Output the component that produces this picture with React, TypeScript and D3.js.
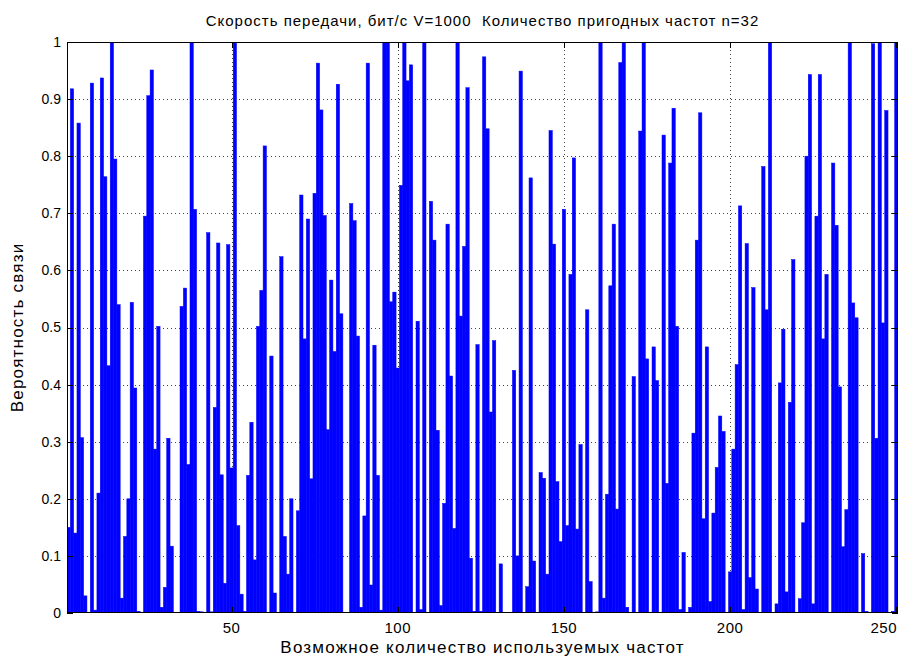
import { useRef, useEffect } from 'react';
import * as d3 from 'd3';

// вероятность связи для каждого возможного количества частот (1..250)
const PROB_1_50 = [
  0.15, 0.918, 0.14, 0.858, 0.307, 0.03, 0.0, 0.928, 0.005, 0.21,
  0.937, 0.764, 0.433, 1.0, 0.795, 0.54, 0.026, 0.134, 0.2, 0.544,
  0.394, 0.003, 0.0, 0.695, 0.906, 0.951, 0.287, 0.502, 0.01, 0.045,
  0.306, 0.117, 0.0, 0.0, 0.537, 0.569, 0.26, 1.0, 0.707, 0.003,
  0.002, 0.0, 0.666, 0.002, 0.36, 0.648, 0.242, 0.052, 0.645, 0.254,
];
const PROB_51_100 = [
  1.0, 0.153, 0.033, 0.003, 0.241, 0.334, 0.093, 0.502, 0.565, 0.818,
  0.0, 0.45, 0.035, 0.0, 0.624, 0.134, 0.068, 0.2, 0.0, 0.179,
  0.732, 0.48, 0.69, 0.235, 0.735, 0.963, 0.881, 0.696, 0.321, 0.583,
  0.458, 0.926, 0.524, 0.0, 0.0, 0.717, 0.687, 0.485, 0.01, 0.17,
  0.963, 0.049, 0.469, 0.241, 0.005, 1.0, 1.0, 0.545, 0.562, 0.429,
];
const PROB_101_150 = [
  0.749, 1.0, 0.932, 0.96, 0.0, 0.511, 0.006, 1.0, 0.0, 0.721,
  0.653, 0.32, 0.013, 0.192, 0.681, 0.415, 0.148, 1.0, 0.52, 0.642,
  0.92, 0.096, 0.003, 0.47, 0.003, 0.974, 0.848, 0.352, 0.477, 0.0,
  0.086, 0.0, 0.0, 0.0, 0.425, 0.1, 0.949, 0.0, 0.046, 0.762,
  0.091, 0.0, 0.246, 0.236, 0.068, 0.845, 0.646, 0.23, 0.125, 0.707,
];
const PROB_151_200 = [
  0.153, 0.593, 0.797, 0.147, 0.295, 0.0, 0.531, 0.055, 0.0, 0.002,
  1.0, 0.026, 0.208, 0.573, 0.681, 0.182, 0.964, 1.0, 0.01, 0.0,
  0.414, 0.0, 0.844, 1.0, 0.445, 0.0, 0.466, 0.407, 0.0, 0.837,
  0.227, 0.788, 0.884, 0.502, 0.006, 0.106, 0.0, 0.01, 0.315, 0.653,
  0.876, 0.165, 0.466, 0.02, 0.175, 0.255, 0.345, 0.318, 0.0, 0.072,
];
const PROB_201_250 = [
  0.287, 0.435, 0.713, 0.006, 0.647, 0.062, 0.57, 0.042, 0.0, 0.782,
  0.531, 1.0, 0.0, 0.016, 0.403, 0.497, 0.037, 0.369, 0.619, 0.0,
  0.025, 0.158, 0.8, 0.943, 0.016, 0.695, 0.943, 0.48, 0.593, 0.0,
  0.788, 0.679, 0.396, 0.116, 0.181, 1.0, 0.543, 0.517, 0.0, 0.104,
  0.003, 0.0, 0.997, 0.306, 1.0, 0.508, 0.88, 0.0, 0.003, 1.0,
];

const X_TICKS = [50, 100, 150, 200, 250];
const Y_TICKS = [0, 0.1, 0.2, 0.3, 0.4, 0.5, 0.6, 0.7, 0.8, 0.9, 1];

const TITLE = 'Скорость передачи, бит/с V=1000  Количество пригодных частот n=32';
const X_LABEL = 'Возможное количество используемых частот';
const Y_LABEL = 'Вероятность связи';

const WIDTH = 914;
const HEIGHT = 657;
const PLOT = { left: 67, right: 898, top: 42, bottom: 613 };
const FONT = '"Liberation Sans", Arial, sans-serif';

export default function App() {
  const svgRef = useRef<SVGSVGElement>(null);

  useEffect(() => {
    if (!svgRef.current) return;
    const svg = d3.select(svgRef.current);
    svg.selectAll('*').remove();

    const values = [...PROB_1_50, ...PROB_51_100, ...PROB_101_150, ...PROB_151_200, ...PROB_201_250];
    const data = values.map((v, i) => ({ n: i + 1, p: v }));

    const x = d3.scaleLinear().domain([0.5, 250.5]).range([PLOT.left, PLOT.right]);
    const y = d3.scaleLinear().domain([0, 1]).range([PLOT.bottom, PLOT.top]);
    const iW = PLOT.right - PLOT.left;
    const iH = PLOT.bottom - PLOT.top;

    svg.append('rect').attr('width', WIDTH).attr('height', HEIGHT).attr('fill', '#fff');

    svg.append('defs').append('clipPath').attr('id', 'plot-clip')
      .append('rect')
      .attr('x', PLOT.left).attr('y', PLOT.top)
      .attr('width', iW).attr('height', iH);

    // dotted grid, behind the bars
    const grid = svg.append('g')
      .attr('stroke', '#444')
      .attr('stroke-width', 1)
      .attr('stroke-dasharray', '1,3');
    grid.selectAll('line.h')
      .data(Y_TICKS.slice(1, -1))
      .join('line')
      .attr('class', 'h')
      .attr('x1', PLOT.left).attr('x2', PLOT.right)
      .attr('y1', (d) => Math.round(y(d)) + 0.5).attr('y2', (d) => Math.round(y(d)) + 0.5);
    grid.selectAll('line.v')
      .data(X_TICKS.slice(0, -1))
      .join('line')
      .attr('class', 'v')
      .attr('x1', (d) => Math.round(x(d)) + 0.5).attr('x2', (d) => Math.round(x(d)) + 0.5)
      .attr('y1', PLOT.top).attr('y2', PLOT.bottom);

    // bars
    svg.append('g')
      .attr('clip-path', 'url(#plot-clip)')
      .selectAll('rect')
      .data(data)
      .join('rect')
      .attr('x', (d) => x(d.n - 0.5))
      .attr('width', x(1.5) - x(0.5))
      .attr('y', (d) => y(d.p))
      .attr('height', (d) => y(0) - y(d.p))
      .attr('fill', '#0000ff')
      .attr('stroke', '#0000ff')
      .attr('stroke-width', 0.5);

    // box with inward ticks on all four sides
    const tickLen = 6;
    const axisG = svg.append('g').attr('stroke', '#000').attr('stroke-width', 1);
    axisG.append('rect')
      .attr('x', PLOT.left + 0.5).attr('y', PLOT.top + 0.5)
      .attr('width', iW - 1).attr('height', iH - 1)
      .attr('fill', 'none');

    Y_TICKS.forEach((t) => {
      const yy = Math.round(y(t)) + 0.5;
      axisG.append('line').attr('x1', PLOT.left).attr('x2', PLOT.left + tickLen).attr('y1', yy).attr('y2', yy);
      axisG.append('line').attr('x1', PLOT.right - tickLen).attr('x2', PLOT.right).attr('y1', yy).attr('y2', yy);
    });
    X_TICKS.forEach((t) => {
      const xx = Math.round(x(t)) + 0.5;
      axisG.append('line').attr('x1', xx).attr('x2', xx).attr('y1', PLOT.bottom).attr('y2', PLOT.bottom - tickLen);
      axisG.append('line').attr('x1', xx).attr('x2', xx).attr('y1', PLOT.top).attr('y2', PLOT.top + tickLen);
    });

    // tick labels
    svg.append('g')
      .selectAll('text')
      .data(Y_TICKS)
      .join('text')
      .attr('x', PLOT.left - 6)
      .attr('y', (d) => y(d))
      .attr('dy', '0.35em')
      .attr('text-anchor', 'end')
      .attr('font-family', FONT)
      .attr('font-size', 14)
      .attr('fill', '#000')
      .text((d) => d3.format('~g')(d));

    const lastTick = X_TICKS[X_TICKS.length - 1];
    svg.append('g')
      .selectAll('text')
      .data(X_TICKS)
      .join('text')
      .attr('x', (d) => (d === lastTick ? PLOT.right - 1 : x(d)))
      .attr('y', PLOT.bottom + 20)
      .attr('text-anchor', (d) => (d === lastTick ? 'end' : 'middle'))
      .attr('font-family', FONT)
      .attr('font-size', 15)
      .attr('letter-spacing', 0.5)
      .attr('fill', '#000')
      .text((d) => String(d));

    // title and axis labels
    svg.append('text')
      .attr('x', (PLOT.left + PLOT.right) / 2)
      .attr('y', 26)
      .attr('text-anchor', 'middle')
      .attr('font-family', FONT)
      .attr('font-size', 15)
      .attr('letter-spacing', 1)
      .attr('fill', '#000')
      .style('white-space', 'pre')
      .text(TITLE);

    svg.append('text')
      .attr('x', (PLOT.left + PLOT.right) / 2)
      .attr('y', 653)
      .attr('text-anchor', 'middle')
      .attr('font-family', FONT)
      .attr('font-size', 17)
      .attr('letter-spacing', 1.2)
      .attr('fill', '#000')
      .text(X_LABEL);

    svg.append('text')
      .attr('transform', `translate(23,${(PLOT.top + PLOT.bottom) / 2}) rotate(-90)`)
      .attr('text-anchor', 'middle')
      .attr('font-family', FONT)
      .attr('font-size', 17)
      .attr('letter-spacing', 1.2)
      .attr('fill', '#000')
      .text(Y_LABEL);
  }, []);

  return (
    <svg
      ref={svgRef}
      width={WIDTH}
      height={HEIGHT}
      viewBox={`0 0 ${WIDTH} ${HEIGHT}`}
      style={{ position: 'absolute', left: 0, top: 0, display: 'block' }}
    />
  );
}
